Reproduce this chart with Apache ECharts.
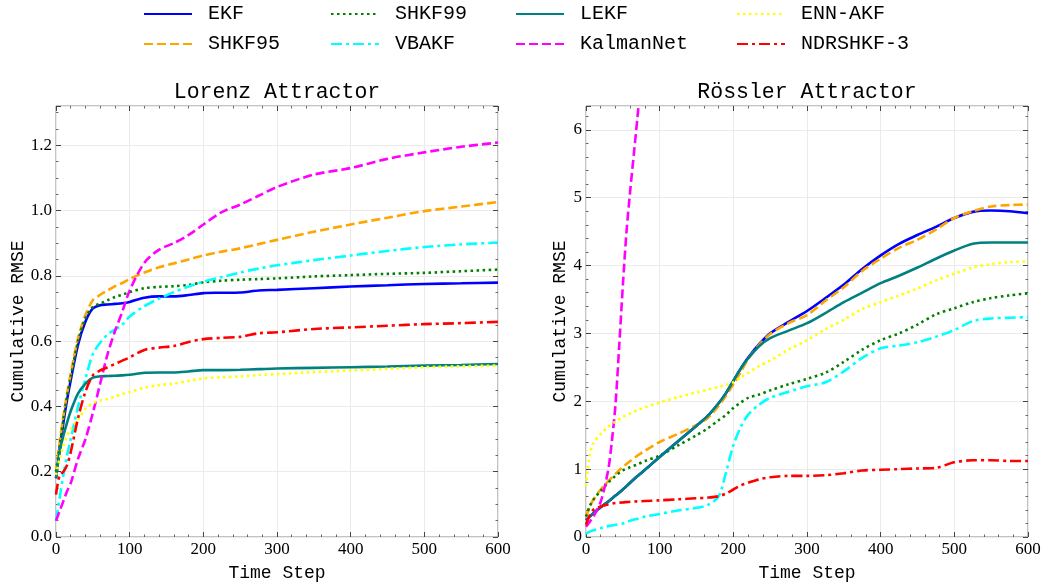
<!DOCTYPE html>
<html>
<head>
<meta charset="utf-8">
<script src="https://cdn.jsdelivr.net/npm/echarts@6/dist/echarts.min.js"></script>
<style>
html,body{margin:0;padding:0;background:#fff;}
#main{width:1044px;height:587px;}
</style>
</head>
<body>
<div id="main"></div>
<script>
// ---- Lorenz attractor ----
var lorenzT = [0,5,10,15,20,30,40,50,60,70,80,90,100,120,140,160,180,200,225,250,275,300,350,400,450,500,550,600]
var lorenzEKF = [0.18,0.27,0.35,0.42,0.48,0.59,0.66,0.70,0.71,0.712,0.714,0.716,0.72,0.733,0.737,0.737,0.741,0.747,0.748,0.749,0.755,0.757,0.762,0.767,0.771,0.775,0.777,0.779]
var lorenzSHKF95 = [0.2,0.29,0.37,0.44,0.5,0.61,0.68,0.725,0.742,0.755,0.768,0.778,0.79,0.81,0.826,0.838,0.85,0.862,0.874,0.884,0.897,0.91,0.935,0.957,0.978,0.998,1.012,1.026]
var lorenzSHKF99 = [0.2,0.28,0.36,0.43,0.49,0.6,0.67,0.705,0.715,0.725,0.735,0.742,0.75,0.762,0.766,0.768,0.772,0.78,0.785,0.788,0.79,0.792,0.798,0.802,0.806,0.809,0.814,0.819]
var lorenzVBAKF = [0.05,0.12,0.19,0.25,0.3,0.4,0.485,0.56,0.595,0.62,0.635,0.65,0.675,0.707,0.73,0.75,0.767,0.782,0.796,0.81,0.822,0.832,0.848,0.862,0.876,0.888,0.896,0.902]
var lorenzLEKF = [0.18,0.26,0.31,0.35,0.386,0.44,0.47,0.488,0.492,0.493,0.494,0.495,0.497,0.503,0.504,0.504,0.507,0.511,0.511,0.512,0.514,0.516,0.518,0.52,0.522,0.525,0.527,0.53]
var lorenzKalmanNet = [0.05,0.08,0.11,0.14,0.165,0.24,0.3,0.38,0.47,0.56,0.63,0.69,0.755,0.84,0.88,0.9,0.925,0.957,0.995,1.018,1.045,1.072,1.11,1.13,1.158,1.178,1.195,1.208]
var lorenzENNAKF = [0.19,0.24,0.28,0.31,0.33,0.36,0.393,0.41,0.418,0.423,0.43,0.438,0.444,0.457,0.465,0.47,0.478,0.486,0.489,0.492,0.496,0.499,0.505,0.51,0.515,0.52,0.523,0.525]
var lorenzNDRSHKF3 = [0.13,0.19,0.2,0.22,0.26,0.365,0.445,0.495,0.51,0.52,0.53,0.54,0.55,0.573,0.58,0.585,0.597,0.606,0.61,0.613,0.624,0.627,0.637,0.642,0.647,0.652,0.655,0.659]

// ---- Rossler attractor ----
var rosslerT = [0,5,10,20,30,40,50,60,70,80,100,125,150,165,180,190,200,210,220,235,250,275,300,325,350,375,400,425,450,475,500,525,550,575,600]
var rosslerEKF = [0.25,0.3,0.35,0.44,0.52,0.61,0.7,0.8,0.9,0.99,1.18,1.41,1.64,1.78,1.97,2.12,2.3,2.48,2.64,2.84,3.0,3.17,3.33,3.52,3.72,3.95,4.15,4.32,4.45,4.57,4.7,4.79,4.81,4.8,4.77]
var rosslerSHKF95 = [0.3,0.45,0.55,0.7,0.82,0.93,1.03,1.12,1.2,1.27,1.4,1.52,1.65,1.75,1.93,2.08,2.25,2.43,2.62,2.83,2.99,3.15,3.27,3.48,3.68,3.92,4.1,4.26,4.38,4.53,4.7,4.8,4.87,4.89,4.9]
var rosslerSHKF99 = [0.3,0.45,0.55,0.68,0.8,0.9,0.98,1.03,1.07,1.12,1.2,1.35,1.5,1.6,1.72,1.8,1.9,1.98,2.05,2.1,2.16,2.25,2.33,2.42,2.58,2.76,2.9,3.0,3.13,3.28,3.37,3.46,3.52,3.56,3.59]
var rosslerVBAKF = [0.05,0.08,0.1,0.13,0.16,0.18,0.2,0.24,0.27,0.3,0.34,0.39,0.43,0.47,0.6,0.95,1.35,1.62,1.8,1.95,2.05,2.14,2.22,2.28,2.44,2.64,2.78,2.82,2.87,2.95,3.05,3.18,3.22,3.23,3.24]
var rosslerLEKF = [0.25,0.3,0.35,0.44,0.52,0.61,0.7,0.8,0.9,0.99,1.18,1.41,1.64,1.78,1.97,2.12,2.3,2.48,2.63,2.81,2.93,3.04,3.15,3.3,3.46,3.6,3.74,3.85,3.97,4.1,4.22,4.32,4.34,4.34,4.34]
var rosslerENNAKF = [0.75,1.2,1.38,1.52,1.62,1.7,1.77,1.82,1.87,1.91,1.98,2.06,2.13,2.17,2.21,2.24,2.28,2.35,2.42,2.52,2.6,2.76,2.9,3.06,3.2,3.36,3.46,3.56,3.66,3.78,3.88,3.97,4.02,4.05,4.06]
var rosslerNDRSHKF3 = [0.18,0.32,0.4,0.45,0.48,0.5,0.51,0.52,0.525,0.53,0.54,0.555,0.57,0.58,0.6,0.64,0.7,0.76,0.8,0.85,0.88,0.9,0.9,0.91,0.94,0.98,0.99,1.0,1.01,1.02,1.1,1.13,1.13,1.12,1.12]
// KalmanNet leaves the plot early, so it has its own short time axis
var rosslerKalmanNetT = [0,10,20,30,35,40,45,50,55,60,65,70,75,80]
var rosslerKalmanNet = [0.15,0.3,0.52,0.98,1.4,1.95,2.8,3.7,4.5,5.1,5.65,6.2,6.8,7.4]

var xTicks = [0,100,200,300,400,500,600]

var names = ['EKF','SHKF95','SHKF99','VBAKF','LEKF','KalmanNet','ENN-AKF','NDRSHKF-3']
var colors = ['#0000ff','#ffa500','#008000','#00ffff','#008080','#ff00ff','#ffff00','#ff0000']
var dashes = ['solid',[9,4],[2.5,3.5],[11,4,3,4],'solid',[9,4],[2.5,3.5],[11,4,3,4]]

function pairs(ts,vs){
    var out=[]
    for(var i=0;i<ts.length;i++){
        out.push([ts[i],vs[i]])
    }
    return out
}

var lorenzData = [lorenzEKF,lorenzSHKF95,lorenzSHKF99,lorenzVBAKF,lorenzLEKF,lorenzKalmanNet,lorenzENNAKF,lorenzNDRSHKF3]
var rosslerData = [pairs(rosslerT,rosslerEKF),pairs(rosslerT,rosslerSHKF95),pairs(rosslerT,rosslerSHKF99),pairs(rosslerT,rosslerVBAKF),
                   pairs(rosslerT,rosslerLEKF),pairs(rosslerKalmanNetT,rosslerKalmanNet),pairs(rosslerT,rosslerENNAKF),pairs(rosslerT,rosslerNDRSHKF3)]

var mono = 'Liberation Mono'
var serif = 'Liberation Serif'
var tickColor = '#444'

function xAxisFor(g,pos){
    var main = pos=='bottom'
    return {
        type:'value', gridIndex:g, position:pos, min:xTicks[0], max:xTicks[xTicks.length-1], interval:100,
        axisLine:{show:false,onZero:false},
        axisTick:{show:true,inside:true,length:5,lineStyle:{color:tickColor,width:1}},
        minorTick:{show:true,splitNumber:5,length:2.5,lineStyle:{color:tickColor,width:0.8}},
        axisLabel:{show:main,margin:4,fontFamily:serif,fontSize:17,color:'#000'},
        splitLine:{show:main,lineStyle:{color:'#ebebeb',width:1}},
        name:main?'Time Step':'', nameLocation:'middle', nameGap:27,
        nameTextStyle:{fontFamily:mono,fontSize:18,color:'#000'}
    }
}
function yAxisFor(g,pos,max,interval,minor,fmt,gap){
    var main = pos=='left'
    return {
        type:'value', gridIndex:g, position:pos, min:0, max:max, interval:interval,
        axisLine:{show:false,onZero:false},
        axisTick:{show:true,inside:true,length:5,lineStyle:{color:tickColor,width:1}},
        minorTick:{show:true,splitNumber:minor,length:2.5,lineStyle:{color:tickColor,width:0.8}},
        axisLabel:{show:main,margin:4,fontFamily:serif,fontSize:17,color:'#000',showMaxLabel:false,formatter:fmt},
        splitLine:{show:main,lineStyle:{color:'#ebebeb',width:1}},
        name:main?'Cumulative RMSE':'', nameLocation:'middle', nameGap:gap,
        nameTextStyle:{fontFamily:mono,fontSize:18,color:'#000'}
    }
}

var series=[]
for(var i=0;i<names.length;i++){
    series.push({
        name:names[i], type:'line', xAxisIndex:0, yAxisIndex:0,
        data:pairs(lorenzT,lorenzData[i]), showSymbol:false, symbol:'none', smooth:0.3, clip:true,
        lineStyle:{color:colors[i],width:2.6,type:dashes[i]}, itemStyle:{color:colors[i]}, z:2+i
    })
}
for(var i=0;i<names.length;i++){
    series.push({
        name:names[i], type:'line', xAxisIndex:2, yAxisIndex:2,
        data:rosslerData[i], showSymbol:false, symbol:'none', smooth:0.3, clip:true,
        lineStyle:{color:colors[i],width:2.6,type:dashes[i]}, itemStyle:{color:colors[i]}, z:2+i
    })
}

var legendCols = [[143,['EKF','SHKF95']],[330,['SHKF99','VBAKF']],[515,['LEKF','KalmanNet']],[736,['ENN-AKF','NDRSHKF-3']]]
var legends=[]
for(var i=0;i<legendCols.length;i++){
    legends.push({
        data:legendCols[i][1], left:legendCols[i][0], top:4, orient:'vertical', padding:0,
        itemWidth:48, itemHeight:12, itemGap:10,
        itemStyle:{opacity:0},
        textStyle:{fontFamily:mono,fontSize:20,color:'#000',padding:[0,0,0,11]}
    })
}

var myChart = echarts.init(document.getElementById('main'))
var option = {
    animation:false,
    backgroundColor:'#fff',
    title:[
        {text:'Lorenz Attractor',left:277,top:81,textAlign:'center',padding:0,
         textStyle:{fontFamily:mono,fontSize:21.5,fontWeight:'normal',color:'#000'}},
        {text:'Rössler Attractor',left:807,top:81,textAlign:'center',padding:0,
         textStyle:{fontFamily:mono,fontSize:21.5,fontWeight:'normal',color:'#000'}}
    ],
    legend:legends,
    grid:[
        {left:56,top:106,width:442,height:439,show:true,borderColor:'#888',borderWidth:1,backgroundColor:'transparent'},
        {left:586,top:106,width:442,height:439,show:true,borderColor:'#888',borderWidth:1,backgroundColor:'transparent'}
    ],
    xAxis:[xAxisFor(0,'bottom'),xAxisFor(0,'top'),xAxisFor(1,'bottom'),xAxisFor(1,'top')],
    yAxis:[
        yAxisFor(0,'left',1.32,0.2,4,function(v){return v.toFixed(1)},25),
        yAxisFor(0,'right',1.32,0.2,4,null,0),
        yAxisFor(1,'left',6.35,1,5,function(v){return String(v)},15),
        yAxisFor(1,'right',6.35,1,5,null,0)
    ],
    series:series
}
option && myChart.setOption(option)
</script>
</body>
</html>
